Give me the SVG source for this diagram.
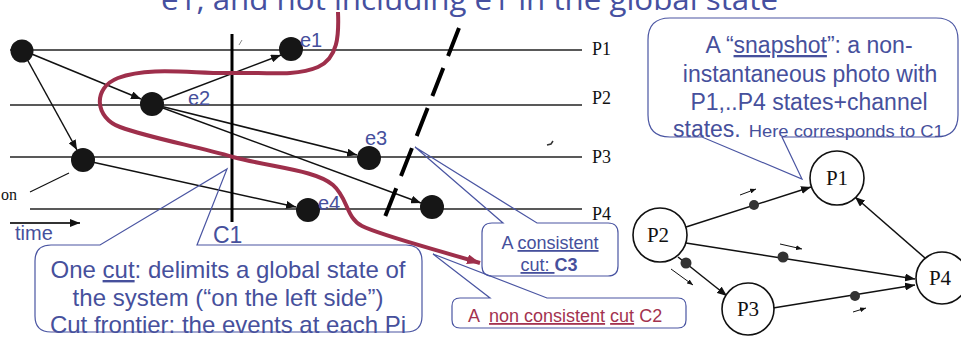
<svg xmlns="http://www.w3.org/2000/svg" width="961" height="337" viewBox="0 0 961 337">
<defs>
<style>
.t{font-family:"Liberation Sans",Arial,sans-serif;fill:#46509c}
.ser{font-family:"Liberation Serif","Times New Roman",serif;fill:#111}
.pl{stroke:#222;stroke-width:1.3}
.ar{stroke:#111;stroke-width:1.5;fill:none;marker-end:url(#ah)}
.ev{fill:#161616}
.co{fill:none;stroke:#4a55a2;stroke-width:1.2}
.g{stroke:#111;stroke-width:1.5;fill:none}
.gc{fill:#fff;stroke:#111;stroke-width:1.6}
.tok{fill:#333}
.sm{stroke:#111;stroke-width:1;fill:none;marker-end:url(#ahs)}
</style>
<marker id="ah" markerUnits="userSpaceOnUse" markerWidth="11" markerHeight="8" refX="10" refY="4" orient="auto"><path d="M0,0 L10,4 L0,8 z" fill="#111"/></marker>
<marker id="ahs" markerUnits="userSpaceOnUse" markerWidth="6" markerHeight="5" refX="6" refY="2.5" orient="auto"><path d="M0,0 L6,2.5 L0,5 z" fill="#111"/></marker>
<marker id="ahr" markerUnits="userSpaceOnUse" markerWidth="14" markerHeight="10" refX="13" refY="5" orient="auto"><path d="M0,0 L13,5 L0,10 z" fill="#9e2f4b"/></marker>
</defs>

<!-- title (clipped) -->
<text x="161" y="10" font-family="'Open Sans','DejaVu Sans',sans-serif" font-size="30" fill="#4650a0" textLength="617" lengthAdjust="spacingAndGlyphs">e1, and not including e1 in the global state</text>

<!-- process lines -->
<g id="processes">
<line class="pl" x1="10" y1="50" x2="582" y2="50"/>
<line class="pl" x1="10" y1="105" x2="582" y2="105"/>
<line class="pl" x1="10" y1="157" x2="582" y2="157"/>
<line class="pl" x1="30" y1="209" x2="582" y2="209"/>
<text class="ser" x="592" y="55" font-size="18">P1</text>
<text class="ser" x="592" y="104" font-size="18">P2</text>
<text class="ser" x="592" y="163" font-size="18">P3</text>
<text class="ser" x="592" y="220" font-size="18">P4</text>
<text class="ser" x="1" y="200" font-size="16">on</text>
<line x1="30" y1="192" x2="69" y2="173" stroke="#111" stroke-width="1.2"/>
<line x1="10" y1="223" x2="80" y2="223" stroke="#333" stroke-width="2" marker-end="url(#ah)"/>
<text class="t" x="15" y="240" font-size="20">time</text>
</g>

<!-- connectors -->
<g id="connectors">
<line class="ar" x1="22" y1="50" x2="141" y2="99"/>
<line class="ar" x1="22" y1="50" x2="77" y2="150"/>
<line class="ar" x1="152" y1="104" x2="281" y2="55"/>
<line class="ar" x1="152" y1="104" x2="357" y2="155"/>
<line class="ar" x1="152" y1="104" x2="421" y2="203"/>
<line class="ar" x1="83" y1="160" x2="296" y2="207"/>
</g>

<!-- events -->
<g id="events">
<circle class="ev" cx="22" cy="51" r="11.5"/>
<circle class="ev" cx="152" cy="104" r="12"/>
<circle class="ev" cx="291" cy="49" r="12"/>
<circle class="ev" cx="83" cy="160" r="12"/>
<circle class="ev" cx="369" cy="158" r="12"/>
<circle class="ev" cx="308" cy="210" r="12"/>
<circle class="ev" cx="432" cy="207" r="12"/>
<text class="t" x="300" y="47" font-size="20">e1</text>
<text class="t" x="188" y="105" font-size="20">e2</text>
<text class="t" x="365" y="145" font-size="20">e3</text>
<text class="t" x="318" y="210" font-size="20">e4</text>
</g>

<!-- specks -->
<path d="M239,45 l3,-5" stroke="#888" stroke-width="1"/>
<path d="M547,145 l4,-1 l2,-3" stroke="#333" stroke-width="1.5" fill="none"/>

<!-- cut C1 -->
<g id="cut-C1">
<line x1="232" y1="34" x2="232" y2="222" stroke="#000" stroke-width="3"/>
<text class="t" x="213" y="243" font-size="23">C1</text>
</g>

<!-- cut C3 (dashed) -->
<g id="cut-C3">
<line x1="459" y1="28" x2="383" y2="222" stroke="#000" stroke-width="4" stroke-dasharray="30 13"/>
</g>

<!-- cut C2 (red curve) -->
<g id="cut-C2">
<path d="M338,12 C339,35 338,58 318,67 C295,77 262,72 232,73 C195,74 150,66 118,78 C92,88 95,118 120,127 C150,138 195,146 233,157 C275,168 315,170 333,185 C348,198 346,218 362,226 C380,235 420,245 480,263" fill="none" stroke="#9e2f4b" stroke-width="4" marker-end="url(#ahr)"/>
</g>

<!-- callout: one cut -->
<g id="callout-cut">
<path class="co" d="M51,245 L100,245 L227,169 L197,245 L406,245 Q422,245 422,261 L422,316 Q422,332 406,332 L51,332 Q35,332 35,316 L35,261 Q35,245 51,245 Z"/>
<text class="t" x="228" y="278" font-size="24" text-anchor="middle">One <tspan text-decoration="underline">cut</tspan>: delimits a global state of</text>
<text class="t" x="228" y="305.5" font-size="24" text-anchor="middle">the system (“on the left side”)</text>
<text class="t" x="228" y="333" font-size="24" text-anchor="middle">Cut frontier: the events at each Pi</text>
</g>

<!-- callout: consistent cut C3 -->
<g id="callout-C3">
<path class="co" d="M492,223 L503,223 L415,147 L537,223 L608,223 Q618,223 618,233 L618,266 Q618,276 608,276 L492,276 Q482,276 482,266 L482,233 Q482,223 492,223 Z"/>
<text class="t" x="550" y="249" font-size="18" text-anchor="middle">A <tspan text-decoration="underline">consistent</tspan></text>
<text class="t" x="549" y="271" font-size="18" text-anchor="middle"><tspan text-decoration="underline">cut: </tspan><tspan font-weight="bold">C3</tspan></text>
</g>

<!-- callout: non consistent cut C2 -->
<g id="callout-C2">
<path class="co" d="M460,298 L490,298 L433,254 L547,298 L678,298 Q686,298 686,306 L686,320 Q686,328 678,328 L460,328 Q452,328 452,320 L452,306 Q452,298 460,298 Z"/>
<text x="468" y="322" font-size="18" font-family="'Liberation Sans',Arial,sans-serif" fill="#a3324f">A <tspan dx="5" text-decoration="underline">non consistent</tspan> <tspan text-decoration="underline">cut</tspan> C2</text>
</g>

<!-- callout: snapshot -->
<g id="callout-snapshot">
<path class="co" d="M670,18 L936,18 Q958,18 958,40 L958,115 Q958,137 936,137 L782,137 L802,179 L702,137 L670,137 Q648,137 648,115 L648,40 Q648,18 670,18 Z"/>
<text class="t" x="809" y="53" font-size="23" text-anchor="middle">A “<tspan text-decoration="underline">snapshot</tspan>”: a non-</text>
<text class="t" x="810" y="82" font-size="23" text-anchor="middle">instantaneous photo with</text>
<text class="t" x="809" y="110" font-size="23" text-anchor="middle">P1,..P4 states+channel</text>
<text class="t" x="673" y="137" font-size="23">states.<tspan font-size="16" dx="8" textLength="195" lengthAdjust="spacingAndGlyphs">Here corresponds to C1</tspan></text>
</g>

<!-- right graph -->
<g id="graph-edges">
<line class="g" x1="686" y1="227" x2="811" y2="187" marker-end="url(#ah)"/>
<line class="g" x1="686" y1="243" x2="915" y2="279" marker-end="url(#ah)"/>
<line class="g" x1="678" y1="257" x2="727" y2="296" marker-end="url(#ah)"/>
<line class="g" x1="773" y1="308" x2="915" y2="285" marker-end="url(#ah)"/>
<line class="g" x1="925" y1="258" x2="855" y2="197" marker-end="url(#ah)"/>
<circle class="tok" cx="754" cy="205" r="5"/>
<circle class="tok" cx="783" cy="257" r="5.5"/>
<circle class="tok" cx="686" cy="263" r="5.5"/>
<circle class="tok" cx="855" cy="296" r="5"/>
<line class="sm" x1="740" y1="195" x2="756" y2="189"/>
<line class="sm" x1="780" y1="244" x2="802" y2="249"/>
<line class="sm" x1="671" y1="269" x2="693" y2="285"/>
<line class="sm" x1="853" y1="312" x2="866" y2="308"/>
</g>
<g id="node-P1"><circle class="gc" cx="837" cy="178" r="27"/><text class="ser" x="837" y="185" font-size="21" text-anchor="middle">P1</text></g>
<g id="node-P2"><circle class="gc" cx="660" cy="235" r="27"/><text class="ser" x="658" y="242" font-size="21" text-anchor="middle">P2</text></g>
<g id="node-P3"><circle class="gc" cx="748" cy="309" r="26"/><text class="ser" x="748" y="316" font-size="21" text-anchor="middle">P3</text></g>
<g id="node-P4"><circle class="gc" cx="942" cy="278" r="26"/><text class="ser" x="940" y="285" font-size="21" text-anchor="middle">P4</text></g>
</svg>
